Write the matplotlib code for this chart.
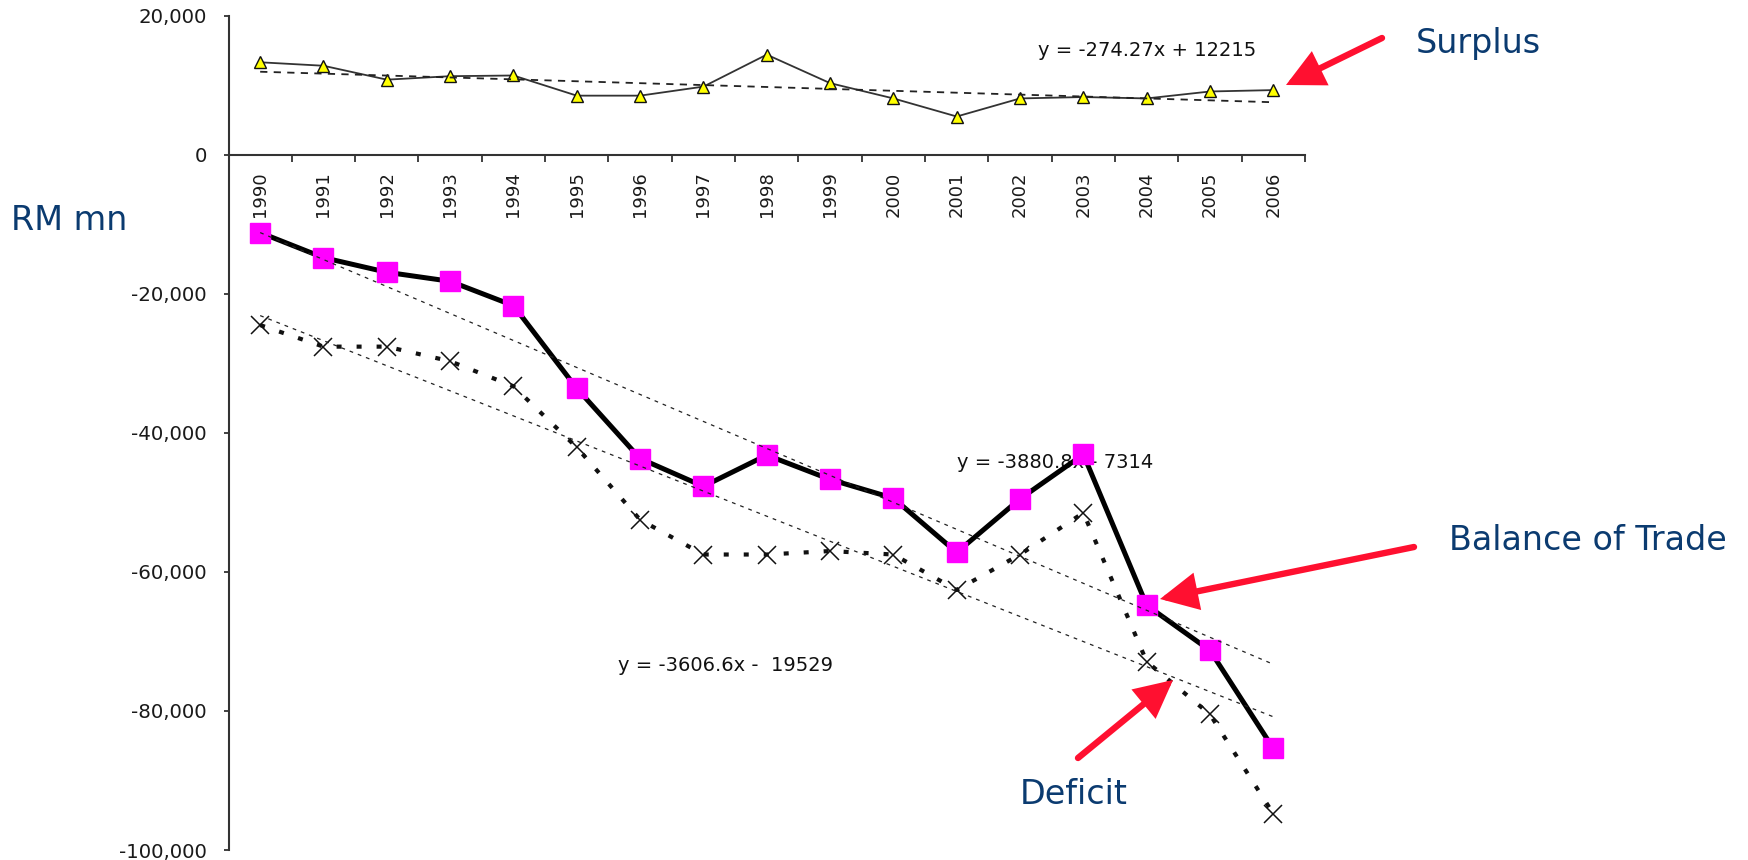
import numpy as np
import matplotlib
matplotlib.use("Agg")
import matplotlib.pyplot as plt

# --- data (RM mn) ---
years = list(range(1990, 2007))
surplus = [13300, 12800, 10800, 11300, 11400, 8500, 8500, 9800, 14400,
           10300, 8100, 5500, 8100, 8300, 8100, 9100, 9300]
deficit = [-24500, -27600, -27600, -29700, -33300, -42100, -52500, -57500, -57500,
           -57000, -57500, -62600, -57500, -51500, -72900, -80500, -94800]
balance = [-11200, -14800, -16900, -18200, -21700, -33600, -43700, -47700, -43200,
           -46700, -49400, -57200, -49500, -43100, -64800, -71300, -85400]

# Excel linear trendlines as printed on the chart (x = 1..17)
surplus_fit = (-274.27, 12215)
balance_fit = (-3880.8, -7314)
deficit_fit = (-3606.6, -19529)

yticks = [20000, 0, -20000, -40000, -60000, -80000, -100000]

NAVY = "#0B3B70"
RED = "#FF1030"
W, H = 1748, 860

fig = plt.figure(figsize=(W / 100, H / 100), dpi=100)
ax = fig.add_axes([228.5 / W, 10 / H, (1305 - 228.5) / W, (850 - 15.7) / H])

x = np.arange(len(years))
n = x + 1


def trend(fit):
    return fit[0] * n + fit[1]


# trendlines
ax.plot(x, trend(surplus_fit), color="#222", lw=1.3, ls=(0, (4, 3.5)), zorder=4)
ax.plot(x, trend(balance_fit), color="#222", lw=0.9, ls=(0, (3, 4)), zorder=4)
ax.plot(x, trend(deficit_fit), color="#222", lw=0.9, ls=(0, (3, 4)), zorder=4)

# series
ax.plot(x, surplus, color="#333", lw=1.3, marker="^", ms=8, mfc="#FFFF00",
        mec="#111", mew=1.0, zorder=3)
ax.plot(x, deficit, color="#111", lw=3.0, ls=(0, (1.2, 3.6)), zorder=3)
ax.plot(x, deficit, ls="none", marker="x", ms=13, mec="#111", mew=1.1, zorder=3)
ax.plot(x, balance, color="#000", lw=3.6, zorder=3)
ax.plot(x, balance, ls="none", marker="s", ms=14.5, mfc="#FF00FF", mec="#FF00FF",
        zorder=3.5)

# trendline equations
eq_kw = dict(fontsize=14, family="DejaVu Sans", color="#111", ha="center", va="center")
ax.text(14.0, 15000, "y = -274.27x + 12215", zorder=2, **eq_kw)
ax.text(12.55, -44300, "y = -3880.8x - 7314", zorder=2, **eq_kw)
ax.text(7.35, -73400, "y = -3606.6x -  19529", zorder=2, **eq_kw)

# axes styling
ax.set_xlim(-0.5, len(years) - 0.5)
ax.set_ylim(-100000, 20000)
for s in ["top", "right"]:
    ax.spines[s].set_visible(False)
ax.spines["bottom"].set_position(("data", 0))
for s in ["left", "bottom"]:
    ax.spines[s].set_color("#333")
    ax.spines[s].set_linewidth(1.5)

ax.set_yticks(yticks)
ax.set_yticklabels([f"{v:,}" for v in yticks], fontsize=14.2, family="DejaVu Sans",
                   color="#1a1a1a")
ax.tick_params(axis="y", direction="out", length=3.6, width=1.3, color="#333", pad=12)

ax.set_xticks(np.arange(-0.5, len(years), 1))
ax.set_xticklabels([])
ax.tick_params(axis="x", which="major", direction="out", length=5, width=1.3,
               color="#333")
ax.set_xticks(x, minor=True)
ax.set_xticklabels([str(y) for y in years], minor=True, rotation=90,
                   fontsize=13, family="DejaVu Sans", color="#1a1a1a")
ax.tick_params(axis="x", which="minor", length=0, pad=12)
for lab in ax.get_xticklabels(minor=True):
    lab.set_va("top")


# annotations (figure pixel positions, measured from the top-left)
def fp(px, py):
    return (px / W, 1 - py / H)


txt_kw = dict(fontsize=24, family="DejaVu Sans", color=NAVY, va="baseline", ha="left")
fig.text(*fp(11, 230), "RM mn", **txt_kw)
fig.text(*fp(1416, 53), "Surplus", **txt_kw)
fig.text(*fp(1449, 550), "Balance of Trade", **txt_kw)
fig.text(*fp(1020, 804), "Deficit", **txt_kw)

arrow_kw = dict(arrowstyle="-|>,head_length=2.0,head_width=1.0", lw=4.6, color=RED,
                shrinkA=0, shrinkB=0, joinstyle="miter")
for tail, tip in [((1382, 38), (1286, 85)),
                  ((1414, 547), (1160, 599)),
                  ((1078, 758), (1173, 680))]:
    ax.annotate("", xy=fp(*tip), xycoords="figure fraction",
                xytext=fp(*tail), textcoords="figure fraction",
                arrowprops=arrow_kw, annotation_clip=False)

fig.savefig("out.png", dpi=100)
plt.close(fig)
